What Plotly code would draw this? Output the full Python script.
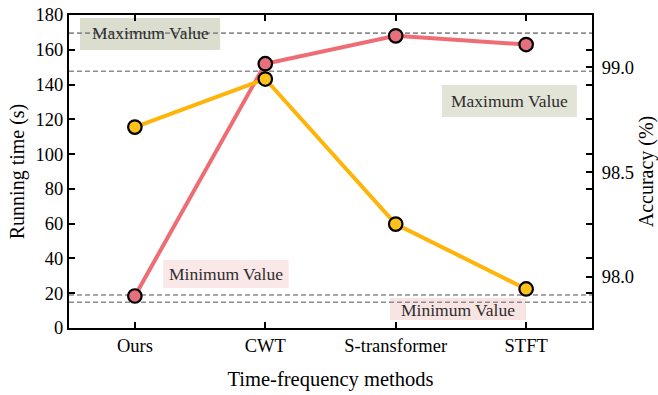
import plotly.graph_objects as go

# Methods compared
methods = ["Ours", "CWT", "S-transformer", "STFT"]

# Running time (s), left axis
running_time = [18.4, 152, 168, 163]

# Accuracy (%), right axis
accuracy = [98.714, 98.943, 98.252, 97.943]

# Reference levels (dashed guides)
time_max_level = 169.6
time_min_level = 19.0
acc_max_level = 98.98
acc_min_level = 97.88

FONT = "Liberation Serif"
RED_LINE = "#F06C74"
RED_FILL = "#E6707C"
YEL_LINE = "#FFB40A"
YEL_FILL = "#FFC21A"
TXT = "#2E2E2E"

fig = go.Figure()

fig.add_trace(go.Scatter(
    x=methods, y=running_time, mode="lines+markers", name="Running time",
    line=dict(color=RED_LINE, width=4),
    marker=dict(size=13.5, color=RED_FILL, line=dict(color="black", width=2.2)),
    yaxis="y", cliponaxis=False,
))
fig.add_trace(go.Scatter(
    x=methods, y=accuracy, mode="lines+markers", name="Accuracy",
    line=dict(color=YEL_LINE, width=4),
    marker=dict(size=13.5, color=YEL_FILL, line=dict(color="black", width=2.2)),
    yaxis="y2", cliponaxis=False,
))

# Label backgrounds (drawn under the dashed guides), in running-time units
boxes = [
    dict(x0=0.021, x1=0.289, y0=159.9, y1=178.3, color="#DBDECF"),
    dict(x0=0.713, x1=0.971, y0=121.3, y1=139.7, color="#E1E4D7"),
    dict(x0=0.180, x1=0.420, y0=23.0, y1=39.1, color="#FAE7E7"),
    dict(x0=0.614, x1=0.874, y0=4.6, y1=17.3, color="#F9E4E4"),
]
shapes = []
for b in boxes:
    shapes.append(dict(type="rect", xref="paper", yref="y",
                       x0=b["x0"], x1=b["x1"], y0=b["y0"], y1=b["y1"],
                       fillcolor=b["color"], line=dict(width=0), layer="below"))

for val, ref in [(time_max_level, "y"), (time_min_level, "y"),
                 (acc_max_level, "y2"), (acc_min_level, "y2")]:
    shapes.append(dict(type="line", xref="paper", yref=ref, x0=0, x1=1,
                       y0=val, y1=val,
                       line=dict(color="#8C8C8C", width=1.6, dash="5px,3px"),
                       layer="below"))

labels = [
    ("Maximum Value", 0.155, time_max_level),
    ("Maximum Value", 0.842, 130.5),
    ("Minimum Value", 0.300, 30.8),
    ("Minimum Value", 0.744, 10.3),
]
annotations = [
    dict(text=t, xref="paper", yref="y", x=x, y=y, xanchor="center",
         yanchor="middle", showarrow=False,
         font=dict(family=FONT, size=17.5, color=TXT))
    for t, x, y in labels
]

axis_common = dict(
    showline=True, linecolor="black", linewidth=2,
    ticks="inside", ticklen=6, tickwidth=1.8, tickcolor="black",
    showgrid=False, zeroline=False, automargin=False,
    tickfont=dict(family=FONT, size=18.5, color="black"),
)

fig.update_layout(
    width=658, height=395,
    margin=dict(l=69, r=66, t=15, b=67),
    paper_bgcolor="white", plot_bgcolor="white",
    showlegend=False,
    font=dict(family=FONT, color="black"),
    shapes=shapes, annotations=annotations,
    xaxis=dict(
        **axis_common, mirror="ticks", type="category",
        range=[-0.505, 3.505],
        title=dict(text="Time-frequency methods", standoff=16,
                   font=dict(family=FONT, size=20.5, color="black")),
    ),
    yaxis=dict(
        **axis_common, mirror="ticks", range=[0, 180], dtick=20,
        title=dict(text="Running time (s)", standoff=6,
                   font=dict(family=FONT, size=20, color="black")),
    ),
    yaxis2=dict(
        **axis_common, overlaying="y", side="right", range=[97.757, 99.248],
        tickvals=[98.0, 98.5, 99.0], ticktext=["98.0", "98.5", "99.0"],
        ticklabelstandoff=4,
        title=dict(text="Accuracy (%)", standoff=12,
                   font=dict(family=FONT, size=20, color="black")),
    ),
)

fig.write_html("out.html")
